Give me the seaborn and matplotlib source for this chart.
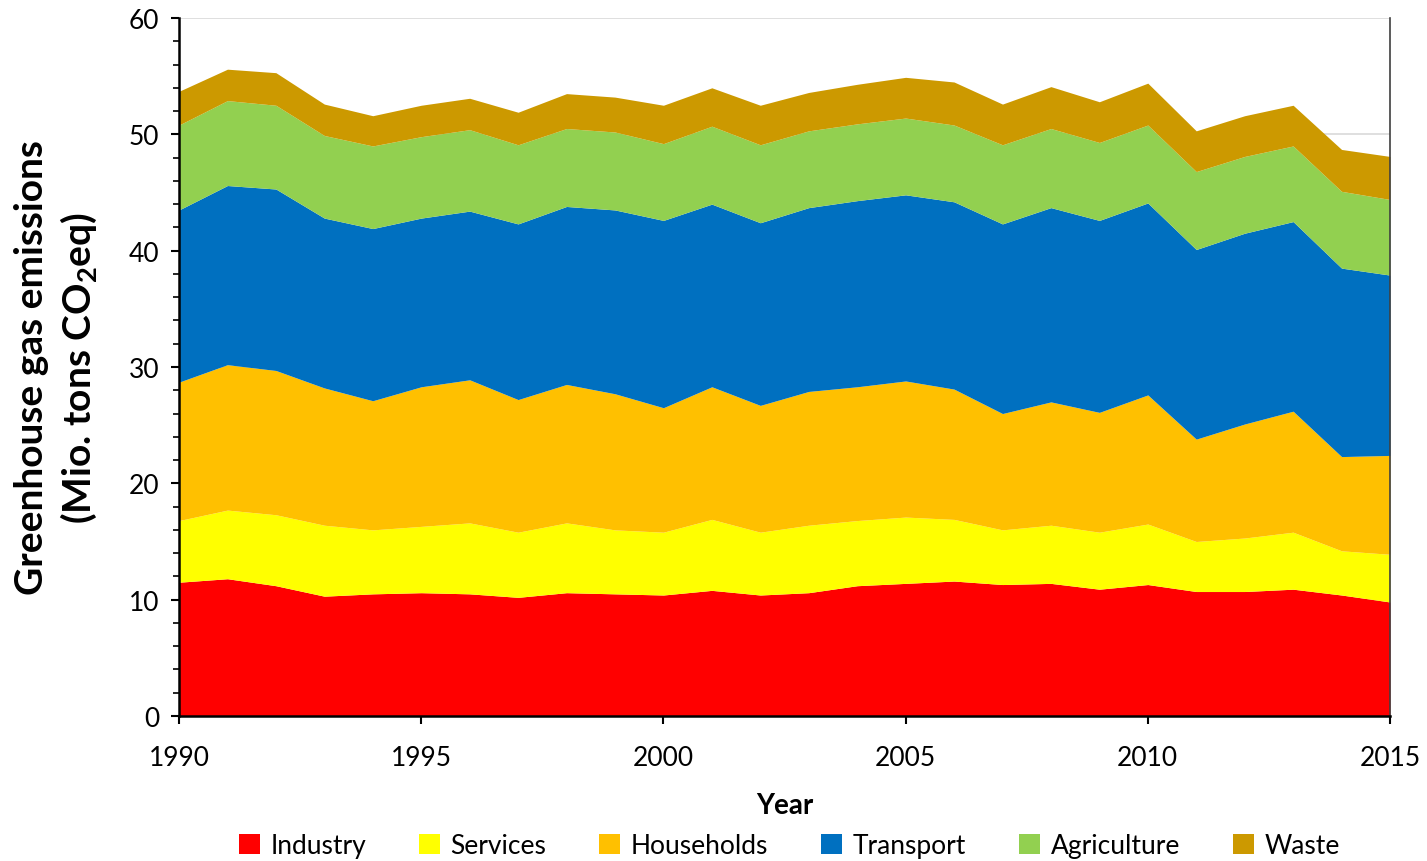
import matplotlib
matplotlib.use("Agg")
import matplotlib.pyplot as plt
from matplotlib.patches import Patch
from matplotlib.ticker import MultipleLocator
import seaborn as sns
import numpy as np

years = list(range(1990, 2016))
industry = [11.5, 11.8, 11.2, 10.3, 10.5, 10.6, 10.5, 10.2, 10.6, 10.5, 10.4, 10.8, 10.4,
            10.6, 11.2, 11.4, 11.6, 11.3, 11.4, 10.9, 11.3, 10.7, 10.7, 10.9, 10.4, 9.8]
services = [5.3, 5.9, 6.1, 6.1, 5.5, 5.7, 6.1, 5.6, 6.0, 5.5, 5.4, 6.1, 5.4,
            5.8, 5.6, 5.7, 5.3, 4.7, 5.0, 4.9, 5.2, 4.3, 4.6, 4.9, 3.8, 4.1]
households = [11.9, 12.5, 12.4, 11.8, 11.1, 12.0, 12.3, 11.4, 11.9, 11.7, 10.7, 11.4, 10.9,
              11.5, 11.5, 11.7, 11.2, 10.0, 10.6, 10.3, 11.1, 8.8, 9.8, 10.4, 8.1, 8.5]
transport = [14.8, 15.4, 15.6, 14.6, 14.8, 14.5, 14.5, 15.1, 15.3, 15.8, 16.1, 15.7, 15.7,
             15.8, 16.0, 16.0, 16.1, 16.3, 16.7, 16.5, 16.5, 16.3, 16.4, 16.3, 16.2, 15.5]
agriculture = [7.3, 7.3, 7.2, 7.1, 7.1, 7.0, 7.0, 6.8, 6.7, 6.7, 6.6, 6.7, 6.7,
               6.6, 6.6, 6.6, 6.6, 6.8, 6.8, 6.7, 6.7, 6.7, 6.6, 6.5, 6.6, 6.5]
waste = [2.9, 2.7, 2.8, 2.7, 2.6, 2.7, 2.7, 2.8, 3.0, 3.0, 3.3, 3.3, 3.4,
         3.3, 3.4, 3.5, 3.7, 3.5, 3.6, 3.5, 3.6, 3.5, 3.5, 3.5, 3.6, 3.7]

sectors = ["Industry", "Services", "Households", "Transport", "Agriculture", "Waste"]
colors = ["#FF0000", "#FFFF00", "#FFC000", "#0070C0", "#92D050", "#CC9900"]
x_ticks = [1990, 1995, 2000, 2005, 2010, 2015]
y_ticks = [0, 10, 20, 30, 40, 50, 60]

sns.set_theme(style="white")
plt.rcParams['font.family'] = ['Lato', 'DejaVu Sans']
plt.rcParams['text.color'] = 'black'
plt.rcParams['axes.labelcolor'] = 'black'
plt.rcParams['xtick.color'] = 'black'
plt.rcParams['ytick.color'] = 'black'

fig = plt.figure(figsize=(14.27, 8.62), dpi=100)
ax = fig.add_axes([179/1427, 1-717/862, (1390-179)/1427, (717-19)/862])

ax.yaxis.grid(True, color="#D9D9D9", linewidth=1.2, zorder=0)
ax.set_axisbelow(True)
ax.stackplot(years, industry, services, households, transport, agriculture, waste,
             colors=colors, labels=sectors, linewidth=0, zorder=2)

ax.set_xlim(1990, 2015)
ax.set_ylim(0, 60)
ax.set_xticks(x_ticks)
ax.set_yticks(y_ticks)
ax.yaxis.set_minor_locator(MultipleLocator(2))
ax.tick_params(axis="both", which="major", labelsize=19, length=6, width=1.5,
               direction="out", color="black", left=True, bottom=True)
ax.tick_params(axis="x", which="major", pad=15)
ax.tick_params(axis="y", which="major", pad=8)
ax.tick_params(axis="y", which="minor", length=4, width=1.2, direction="out",
               color="black", left=True)

for s in ["left", "bottom"]:
    ax.spines[s].set_color("black")
    ax.spines[s].set_linewidth(1.8)
ax.spines["top"].set_visible(False)
ax.spines["right"].set_color("#404040")
ax.spines["right"].set_linewidth(1.2)

ax.set_xlabel("Year", fontsize=20, fontweight="bold", labelpad=16)
ax.set_ylabel("Greenhouse gas emissions\n(Mio. tons CO$_\\mathregular{2}$eq)",
              fontsize=28, fontweight="bold", linespacing=1.3)
ax.yaxis.set_label_coords(-0.066, 0.5)

handles = [Patch(facecolor=c, edgecolor="none") for c in colors]
fig.legend(handles, sectors, loc="center", bbox_to_anchor=(0.553, 1-847/862),
           ncol=6, frameon=False, fontsize=19, handlelength=0.8, handleheight=0.8,
           handletextpad=0.4, columnspacing=2.0)

fig.savefig("out.png", dpi=100)
